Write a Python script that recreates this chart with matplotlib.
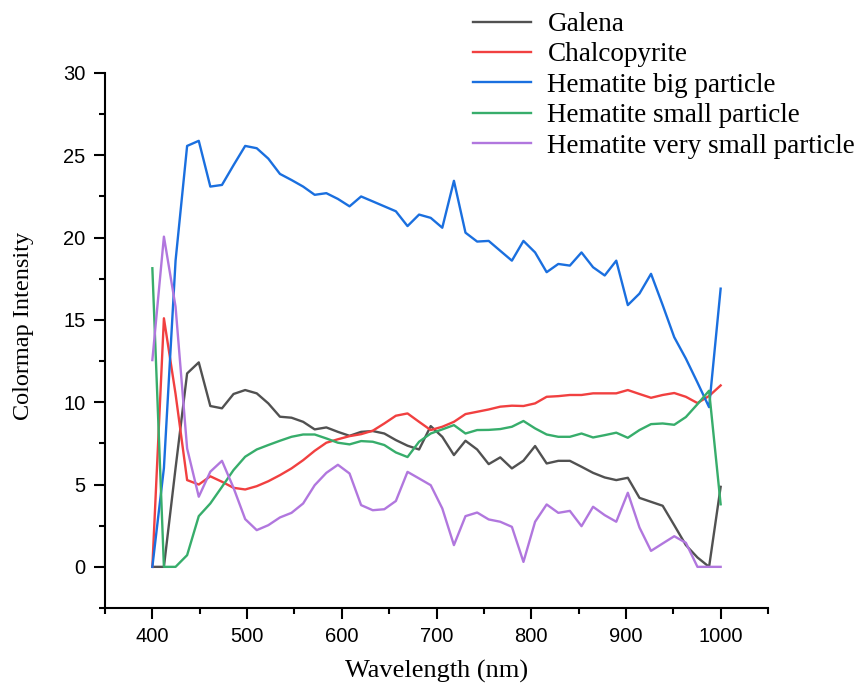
import matplotlib
matplotlib.use("Agg")
import matplotlib.pyplot as plt
from matplotlib.ticker import MultipleLocator

# wavelength grid (nm), 50 samples between 400 and 1000
wavelength = [400, 412.2, 424.5, 436.7, 449.0, 461.2, 473.5, 485.7, 498.0, 510.2,
              522.4, 534.7, 546.9, 559.2, 571.4, 583.7, 595.9, 608.2, 620.4, 632.7,
              644.9, 657.1, 669.4, 681.6, 693.9, 706.1, 718.4, 730.6, 742.9, 755.1,
              767.3, 779.6, 791.8, 804.1, 816.3, 828.6, 840.8, 853.1, 865.3, 877.6,
              889.8, 902.0, 914.3, 926.5, 938.8, 951.0, 963.3, 975.5, 987.8, 1000]

galena = [0, 0, 6.0, 11.75, 12.42, 9.77, 9.63, 10.5, 10.74, 10.54,
          9.93, 9.12, 9.06, 8.81, 8.35, 8.47, 8.2, 7.96, 8.2, 8.25,
          8.1, 7.7, 7.36, 7.13, 8.55, 7.9, 6.79, 7.66, 7.13, 6.24,
          6.65, 5.98, 6.45, 7.34, 6.28, 6.44, 6.44, 6.08, 5.71, 5.43,
          5.27, 5.41, 4.19, 3.95, 3.71, 2.53, 1.32, 0.57, 0.0, 4.86]
chalcopyrite = [0, 15.1, 10.5, 5.27, 5.0, 5.5, 5.17, 4.8, 4.7, 4.9,
                5.2, 5.57, 5.98, 6.48, 7.05, 7.54, 7.75, 7.94, 8.06, 8.27,
                8.71, 9.18, 9.32, 8.81, 8.31, 8.51, 8.81, 9.28, 9.42, 9.56,
                9.73, 9.79, 9.77, 9.93, 10.33, 10.37, 10.44, 10.44, 10.54, 10.54,
                10.54, 10.74, 10.5, 10.27, 10.44, 10.56, 10.33, 9.95, 10.38, 11.02]
hem_big = [0, 6.0, 18.6, 25.57, 25.88, 23.1, 23.2, 24.4, 25.57, 25.43,
           24.8, 23.87, 23.5, 23.1, 22.6, 22.7, 22.35, 21.9, 22.5, 22.2,
           21.9, 21.6, 20.7, 21.4, 21.2, 20.6, 23.45, 20.3, 19.76, 19.8,
           19.2, 18.6, 19.8, 19.1, 17.9, 18.4, 18.3, 19.1, 18.2, 17.7,
           18.6, 15.9, 16.6, 17.8, 15.9, 13.95, 12.65, 11.2, 9.7, 16.9]
hem_small = [18.14, 0, 0, 0.71, 3.08, 3.85, 4.86, 5.88, 6.69, 7.13,
             7.4, 7.66, 7.9, 8.04, 8.04, 7.8, 7.54, 7.44, 7.64, 7.6,
             7.4, 6.95, 6.67, 7.6, 8.1, 8.35, 8.61, 8.1, 8.31, 8.32,
             8.37, 8.51, 8.86, 8.41, 8.04, 7.9, 7.9, 8.1, 7.86, 8.0,
             8.15, 7.84, 8.31, 8.67, 8.71, 8.63, 9.1, 9.88, 10.7, 3.8]
hem_vsmall = [12.56, 20.06, 15.8, 7.19, 4.26, 5.78, 6.44, 4.8, 2.9, 2.23,
              2.53, 3.0, 3.28, 3.85, 4.96, 5.71, 6.2, 5.67, 3.75, 3.44,
              3.5, 4.0, 5.77, 5.37, 4.96, 3.55, 1.32, 3.08, 3.3, 2.88,
              2.74, 2.43, 0.3, 2.74, 3.79, 3.28, 3.4, 2.47, 3.65, 3.14,
              2.74, 4.5, 2.39, 0.97, 1.42, 1.86, 1.46, 0, 0, 0]

names = ["Galena", "Chalcopyrite", "Hematite big particle",
         "Hematite small particle", "Hematite very small particle"]
colors = ["#515151", "#F14040", "#1A6FDF", "#37AD6B", "#B177DE"]
series = [galena, chalcopyrite, hem_big, hem_small, hem_vsmall]

fig = plt.figure(figsize=(8.61, 6.86), dpi=100)
ax = fig.add_axes([105 / 861, 78 / 686, 663 / 861, 535 / 686])

for ys, c, n in zip(series, colors, names):
    ax.plot(wavelength, ys, color=c, lw=1.7, label=n)

ax.set_xlim(350, 1050)
ax.set_ylim(-2.5, 30)
ax.xaxis.set_minor_locator(MultipleLocator(50))
ax.yaxis.set_minor_locator(MultipleLocator(2.5))
ax.set_xticks([400, 500, 600, 700, 800, 900, 1000])
ax.set_yticks([0, 5, 10, 15, 20, 25, 30])

for s in ["top", "right"]:
    ax.spines[s].set_visible(False)
for s in ["left", "bottom"]:
    ax.spines[s].set_linewidth(1.5)

ax.tick_params(which="major", direction="out", length=8, width=1.5, pad=6,
               labelsize=14.5)
ax.tick_params(which="minor", direction="out", length=4.5, width=1.5)
for lab in ax.get_xticklabels() + ax.get_yticklabels():
    lab.set_fontfamily("Liberation Sans")

serif = "Liberation Serif"
ax.set_xlabel("Wavelength (nm)", fontsize=19, family=serif, labelpad=10)
ax.set_ylabel("Colormap Intensity", fontsize=17.5, family=serif)
ax.yaxis.set_label_coords(-0.107, 0.527)

fig.legend(loc="upper left", bbox_to_anchor=(473 / 861, 1 - 12 / 686),
           frameon=False, prop={"family": serif, "size": 19.5},
           handlelength=2.15, handletextpad=0.6, labelspacing=0.2,
           borderpad=0, borderaxespad=0)

fig.savefig("out.png", dpi=100)
